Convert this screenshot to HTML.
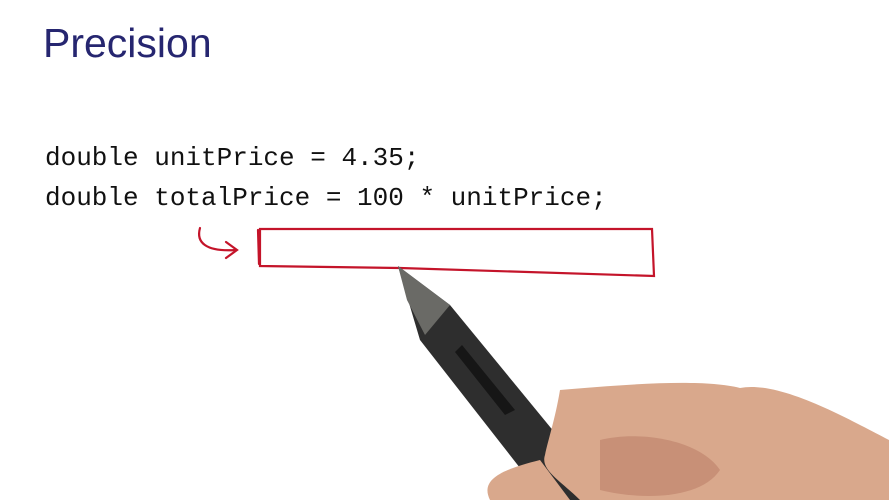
<!DOCTYPE html>
<html><head><style>
body{margin:0;background:#fff;width:889px;height:500px;overflow:hidden;position:relative}
.t{position:absolute;left:43px;top:20px;font:41px "Liberation Sans",sans-serif;color:#262670}
.c{position:absolute;left:45px;font:26px "Liberation Mono",monospace;color:#111;white-space:pre}
svg{position:absolute;left:0;top:0}
</style></head><body>
<div class="t">Precision</div>
<div class="c" style="top:143px">double unitPrice = 4.35;</div>
<div class="c" style="top:183px">double totalPrice = 100 * unitPrice;</div>
<svg width="889" height="500">
<g fill="none" stroke="#c4142a" stroke-width="2.2" stroke-linecap="round">
<path d="M200 228 C196 242 205 252 236 250"/>
<path d="M226 242 L237 250 L226 258"/>
<path d="M260 229 L652 229 L654 276 L400 268 L260 266 Z"/>
<path d="M258 230 L259 264"/>
</g>
<path d="M398 266 L450 305 L610 500 L545 500 L420 340 Z" fill="#2e2e2e"/>
<path d="M398 266 L450 305 L425 335 L407 300 Z" fill="#6a6a66"/>
<path d="M462 345 L515 410 L505 415 L455 352 Z" fill="#161616"/>
<path d="M560 390 C620 385 700 378 740 388 C780 380 850 420 889 440 L889 500 L580 500 C560 480 540 470 545 455 C548 440 555 420 560 390 Z" fill="#d9a88c"/>
<path d="M490 500 C480 480 500 470 540 460 L570 500 Z" fill="#d9a88c"/>
<path d="M600 440 C640 430 700 440 720 470 C700 500 640 500 600 490 Z" fill="#c89077"/>
</svg>
</body></html>
